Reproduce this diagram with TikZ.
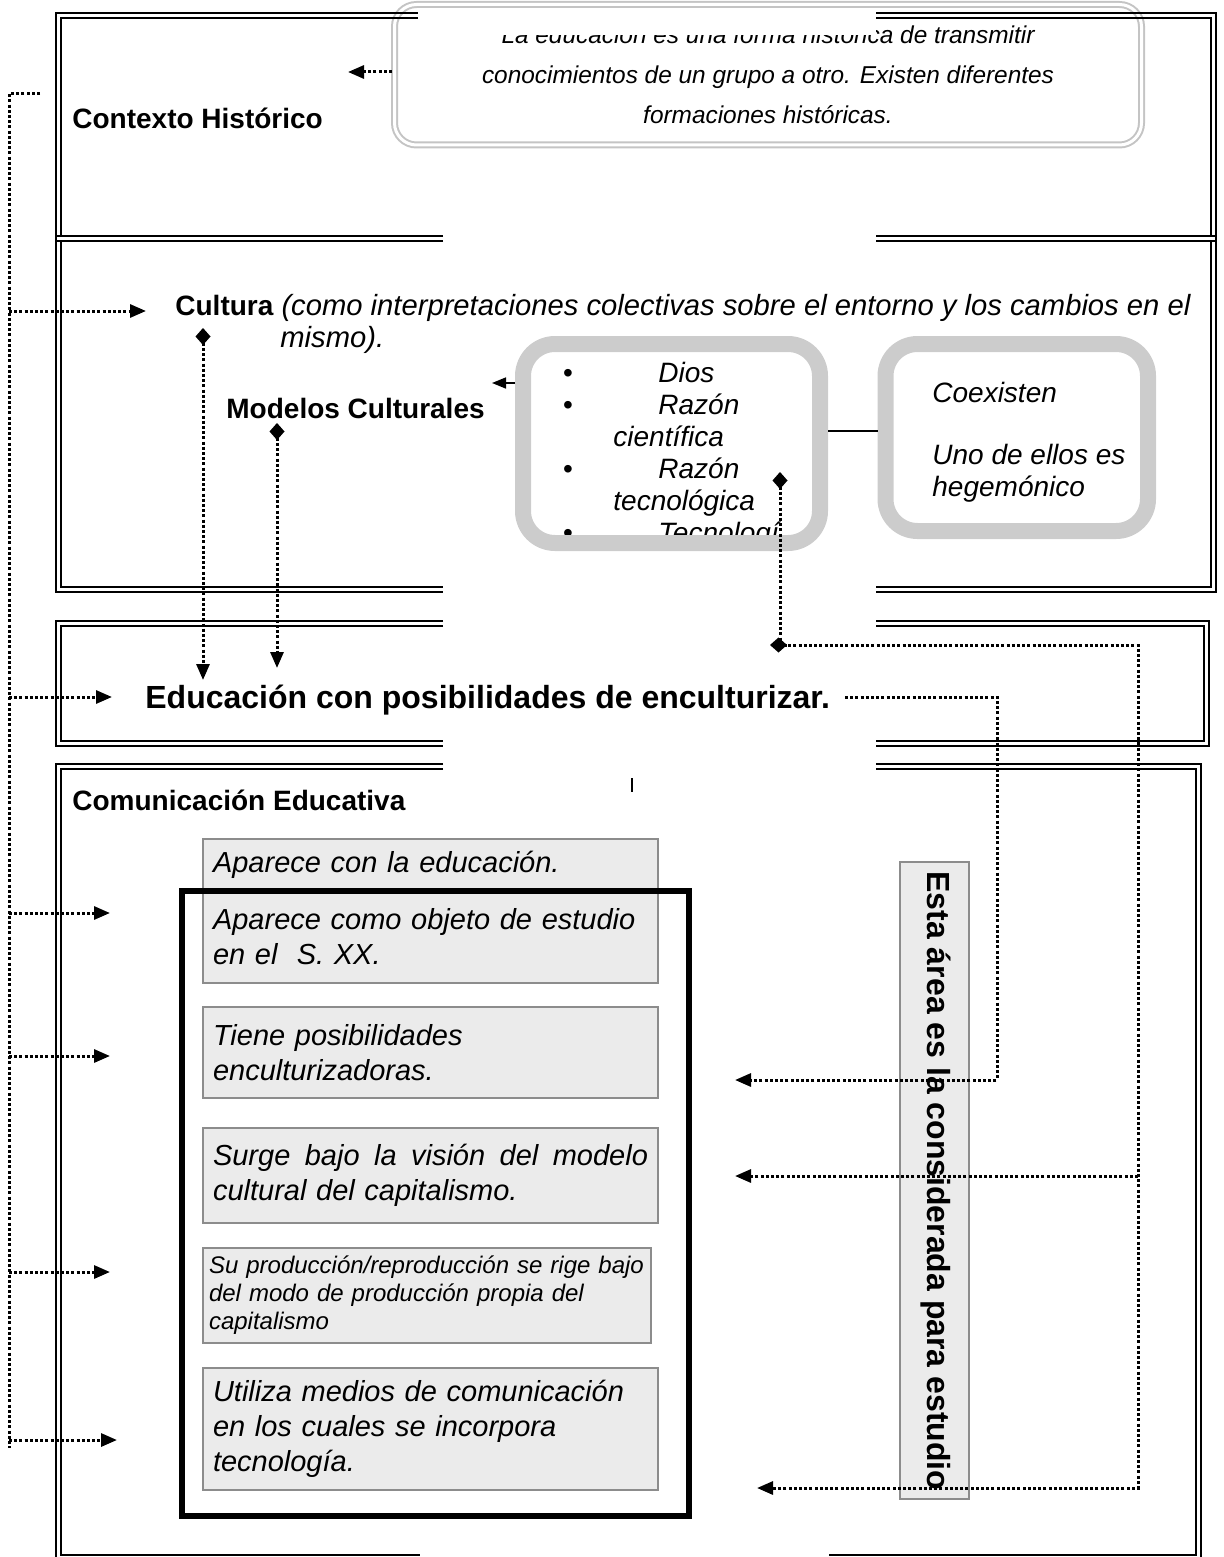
\documentclass[tikz,border=0pt]{standalone}
\usepackage{fontspec}
\setmainfont{Liberation Sans}
\usetikzlibrary{arrows.meta}

\definecolor{grisnota}{HTML}{C4C4C4}
\definecolor{grisfondo}{HTML}{EBEBEB}
\definecolor{grislinea}{HTML}{8C8C8C}
\definecolor{grismarco}{HTML}{CCCCCC}

% marco doble con hueco arriba y abajo: x1 y1 x2 y2, hueco inferior
\newcommand{\marco}[6]{%
  \draw[line width=1.2pt] (443,#2) -- (#1,#2) -- (#1,#4) -- (#5,#4)
                          (876,#2) -- (#3,#2) -- (#3,#4) -- (#6,#4);
  \draw[line width=0.7pt] (443,#2+5) -- (#1+5,#2+5) -- (#1+5,#4-5) -- (#5,#4-5)
                          (876,#2+5) -- (#3-5,#2+5) -- (#3-5,#4-5) -- (#6,#4-5);
}

\begin{document}
\begin{tikzpicture}[
    x=0.5pt, y=-0.5pt,
    >={Triangle[length=8pt,width=6.5pt]},
    rombo/.style={{Diamond[length=8.5pt,width=7.5pt]}->},
    punteado/.style={line width=1.5pt, dash pattern=on 1.5pt off 1.1pt},
    titulo/.style={font=\fontsize{14}{16}\selectfont\bfseries, inner sep=0pt},
    cursiva/.style={font=\fontsize{14.6}{16}\selectfont\itshape, inner sep=0pt, align=left},
    nota/.style={draw=grisnota, line width=1pt, double=white, double distance=1.5pt, fill=white, rounded corners=11pt, minimum width=373.5pt, minimum height=70.25pt, inner sep=0pt, align=center, font=\fontsize{12.2}{20}\selectfont\itshape},
    caja/.style={draw=grislinea, line width=0.6pt, fill=grisfondo, inner xsep=5pt, inner ysep=0pt, text width=217.5pt, align=left, font=\fontsize{14.5}{17.5}\selectfont\itshape},
    redondo/.style={draw=grismarco, line width=8pt, rounded corners=16pt, inner sep=0pt},
    bala/.style={font=\fontsize{14}{16}\selectfont, inner sep=0pt, anchor=base},
    franja/.style={draw=grislinea, line width=0.6pt, fill=grisfondo, minimum width=34.5pt, minimum height=318.5pt, inner sep=0pt}
]
\useasboundingbox (0,0) rectangle (1224,1557);

    % Nota superior
    \node[nota] (nota) at (768,74.75) {La educación es una forma histórica de transmitir\\conocimientos de un grupo a otro. Existen diferentes\\formaciones históricas.};

    % Marcos
    \marco{56}{13}{1216}{241}{443}{876}
    \marco{56}{236}{1216}{592}{443}{876}
    \marco{56}{621}{1209}{746}{443}{876}
    \marco{56}{764}{1201}{1560}{420}{829}
    \fill[white] (418,8) rectangle (876,35);
    \draw[line width=1.4pt] (632,778) -- (632,792);

    % Titulos
    \node[titulo, anchor=base west] (contexto) at (72,129) {Contexto Histórico};
    \node[cursiva, anchor=base west] (cultura) at (175,347) {{\upshape\bfseries\fontsize{14}{16}\selectfont Cultura} (como interpretaciones colectivas sobre el entorno y los cambios en el\\\hspace*{52.5pt}mismo).};
    \node[titulo, anchor=base west] (modelos) at (226,418) {Modelos Culturales};
    \node[titulo, font=\fontsize{16}{18}\selectfont\bfseries, anchor=base west] (educ) at (145,708) {Educación con posibilidades de enculturizar.};
    \node[titulo, anchor=base west] (comed) at (72,810) {Comunicación Educativa};

    % Modelos culturales
    \node[cursiva, font=\fontsize{14}{16}\selectfont\itshape, anchor=base west] (lista) at (613,542) {\hspace*{22.5pt}Dios\\\hspace*{22.5pt}Razón\\científica\\\hspace*{22.5pt}Razón\\tecnológica\\\hspace*{22.5pt}Tecnologí};
    \foreach \y in {382,414,478,542}
        \node[bala] (bala\y) at (568,\y) {•};
    \node[cursiva, font=\fontsize{14}{16}\selectfont\itshape, anchor=base west] (coex) at (932,496) {Coexisten\\[15pt]Uno de ellos es\\hegemónico};
    \node[redondo, minimum width=148.5pt, minimum height=99.5pt] (caja1) at (671.5,443.5) {};
    \node[redondo, minimum width=131.25pt, minimum height=93.5pt] (caja2) at (1016.75,437.5) {};

    % Comunicacion educativa
    \node[caja, minimum height=25.5pt] (ap1) at (430.5,864.5) {Aparece con la educación.};
    \node[caja, minimum height=46.5pt] (ap2) at (430.5,936.5) {Aparece como objeto de estudio\\en el\ \ S. XX.};
    \node[caja, minimum height=45.5pt] (tiene) at (430.5,1052.5) {Tiene posibilidades\\enculturizadoras.};
    \node[caja, minimum height=47.5pt] (surge) at (430.5,1175.5) {\hbox to 217.5pt{Surge\hfill bajo\hfill la\hfill visión\hfill del\hfill modelo}\\cultural del capitalismo.};
    \node[caja, minimum height=47.5pt, inner xsep=3pt, text width=218pt, font=\fontsize{12}{14}\selectfont\itshape] (prod) at (427,1295.5) {Su producción/reproducción se rige bajo\\del modo de producción propia del\\capitalismo};
    \node[caja, minimum height=61pt] (medios) at (430.5,1429) {Utiliza medios de comunicación\\en los cuales se incorpora\\tecnología.};
    \draw[line width=3pt] (182,891) rectangle (689,1516);

    \node[franja] (area) at (934.5,1180.5) {};
    \node[font=\fontsize{16}{18}\selectfont\bfseries, rotate=-90, anchor=base, inner sep=0pt] (areatxt) at (927,1181) {Esta área es la considerada para estudio};

    % Conexiones
    \coordinate (notaA) at (392,72);
    \coordinate (notaB) at (348,72);
    \draw[punteado, ->] (notaA) -- (notaB);

    \coordinate (izqA) at (40,94);
    \coordinate (izqB) at (9,1448);
    \draw[punteado] (izqA) -| (izqB);
    \foreach \y/\xt [count=\i] in {311/146, 697/112, 913/110, 1056/110, 1272/110, 1440/117} {
        \coordinate (ramaI\i) at (9,\y);
        \coordinate (puntaI\i) at (\xt,\y);
        \draw[punteado, ->] (ramaI\i) -- (puntaI\i);
    }

    \coordinate (culA) at (203,328);
    \coordinate (culB) at (203,680);
    \draw[punteado, rombo] (culA) -- (culB);
    \coordinate (modA) at (277,423);
    \coordinate (modB) at (277,668);
    \draw[punteado, rombo] (modA) -- (modB);

    \coordinate (enlace) at (850,431);
    \draw[line width=0.7pt] (caja1.east |- enlace) -- (caja2.west |- enlace);
    \coordinate (flechaM) at (492,383);
    \draw[-{Triangle[length=7pt,width=5.5pt]}, line width=0.8pt] (caja1.west |- flechaM) -- (flechaM);

    \coordinate (edA) at (845,697);
    \coordinate (edB) at (997,1080);
    \coordinate (edC) at (735,1080);
    \draw[punteado, ->] (edA) -| (edB) -- (edC);

    \coordinate (tecA) at (780,472);
    \coordinate (tecB) at (1138,645);
    \coordinate (tecC) at (757,1488);
    \draw[punteado, rombo] (tecA) |- (tecB) |- (tecC);
    \coordinate (tecD) at (770,645);
    \coordinate (tecF) at (787,645);
    \draw[{Diamond[length=8.5pt,width=7.5pt]}-, line width=1.5pt] (tecD) -- (tecF);
    \coordinate (tecE) at (735,1176);
    \draw[punteado, ->] (tecB |- tecE) -- (tecE);

\end{tikzpicture}
\end{document}
